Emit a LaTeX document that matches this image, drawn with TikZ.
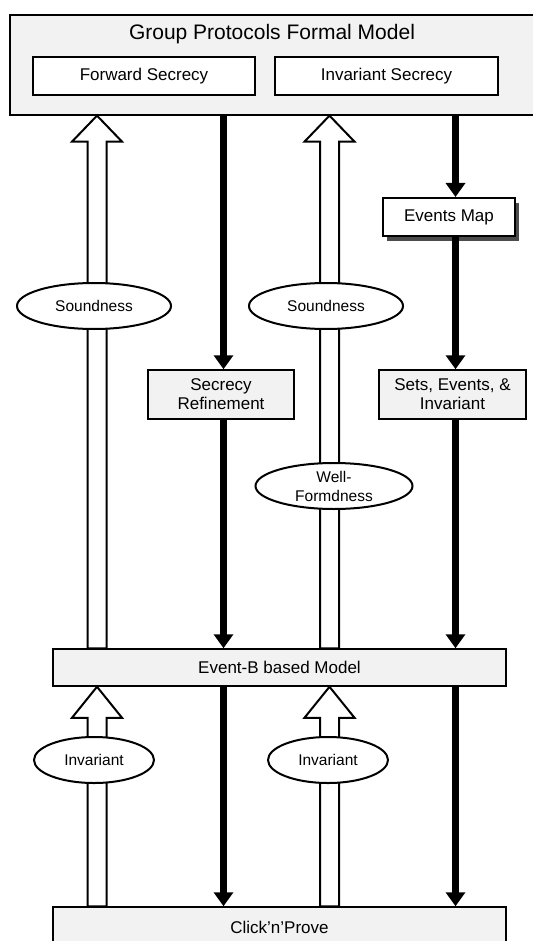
\documentclass[tikz,border=0pt]{standalone}
\usepackage{fontspec}
\setmainfont{Liberation Sans}
\usetikzlibrary{arrows.meta,shapes.geometric,shadows}

\tikzset{
  panel/.style={draw, line width=1.3pt, fill=black!5, inner sep=0pt},
  whitebox/.style={draw, line width=2pt, fill=white, inner sep=0pt,
    font=\fontsize{17}{19}\selectfont},
  greybox/.style={draw, line width=1.5pt, fill=black!5, inner sep=0pt,
    align=center, font=\fontsize{17}{19}\selectfont},
  oval/.style={ellipse, draw, line width=2pt, fill=white, inner sep=0pt,
    align=center, font=\fontsize{15.5}{19}\selectfont},
  blackflow/.style={line width=7pt, -{Triangle[width=19pt,length=14pt]}},
  hollowflow/.style={draw, line width=2pt, fill=white, line join=miter},
}

% wide outlined arrow pointing up from node #1 to node #2 along column #3,
% head length #4
\newcommand\hollowup[4]{%
  \path (#1.north -| #3) coordinate (hb) (#2.south -| #3) coordinate (ht);
  \draw[hollowflow] ([xshift=-9.5pt]hb) -- ([xshift=-9.5pt,yshift=-#4]ht)
    -- ([xshift=-25pt,yshift=-#4]ht) -- (ht)
    -- ([xshift=25pt,yshift=-#4]ht) -- ([xshift=9.5pt,yshift=-#4]ht)
    -- ([xshift=9.5pt]hb) -- cycle;
}

\begin{document}
\begin{tikzpicture}[x=1pt,y=-1pt]
\useasboundingbox (0,0) rectangle (532,941);

% columns of the connectors
\coordinate (cA) at (97,0);
\coordinate (cB) at (223.5,0);
\coordinate (cC) at (329.5,0);
\coordinate (cD) at (455.5,0);

% formal model on top
\node[panel, minimum width=530pt, minimum height=100pt] (gp) at (275,65) {};
\node[font=\fontsize{21}{24}\selectfont, inner sep=0pt] (gptitle) at (272,34)
  {Group Protocols Formal Model};
\node[whitebox, minimum width=222pt, minimum height=38pt] (fs) at (144,76)
  {Forward Secrecy};
\node[whitebox, minimum width=223pt, minimum height=38pt] (is) at (386.5,76)
  {Invariant Secrecy};

% intermediate steps
\node[whitebox, minimum width=132pt, minimum height=38pt,
  drop shadow={shadow xshift=4pt, shadow yshift=-5pt, fill=black!70, opacity=1}]
  (em) at (449,217) {Events Map};
\node[greybox, minimum width=146pt, minimum height=49pt] (sr) at (221,394.5)
  {Secrecy\\Refinement};
\node[greybox, minimum width=147pt, minimum height=49pt] (sei) at (452.5,394.5)
  {Sets, Events, \&\\Invariant};

% Event-B model and the prover
\node[greybox, minimum width=453pt, minimum height=37pt] (eb) at (279.5,667.5)
  {Event-B based Model};
\node[greybox, minimum width=453pt, minimum height=40pt] (cp) at (279.5,927)
  {Click'n'Prove};

% translation arrows (downwards)
\draw[blackflow] (gp.south -| cB) -- (sr.north -| cB);
\draw[blackflow] (sr.south -| cB) -- (eb.north -| cB);
\draw[blackflow] (gp.south -| cD) -- (em.north -| cD);
\draw[blackflow] (em.south -| cD) -- (sei.north -| cD);
\draw[blackflow] (sei.south -| cD) -- (eb.north -| cD);
\draw[blackflow] (eb.south -| cB) -- (cp.north -| cB);
\draw[blackflow] (eb.south -| cD) -- (cp.north -| cD);

% justification arrows (upwards)
\hollowup{eb}{gp}{cA}{26pt}
\hollowup{eb}{gp}{cC}{26pt}
\hollowup{cp}{eb}{cA}{31pt}
\hollowup{cp}{eb}{cC}{31pt}

% labels on the upward arrows
\node[oval, minimum width=154pt, minimum height=46pt] (snd1) at (94,306) {Soundness};
\node[oval, minimum width=154pt, minimum height=46pt] (snd2) at (326,306) {Soundness};
\node[oval, minimum width=157pt, minimum height=46pt] (wf) at (334,486) {Well-\\Formdness};
\node[oval, minimum width=120pt, minimum height=46pt] (inv1) at (94,760) {Invariant};
\node[oval, minimum width=120pt, minimum height=46pt] (inv2) at (328,760) {Invariant};
\end{tikzpicture}
\end{document}
